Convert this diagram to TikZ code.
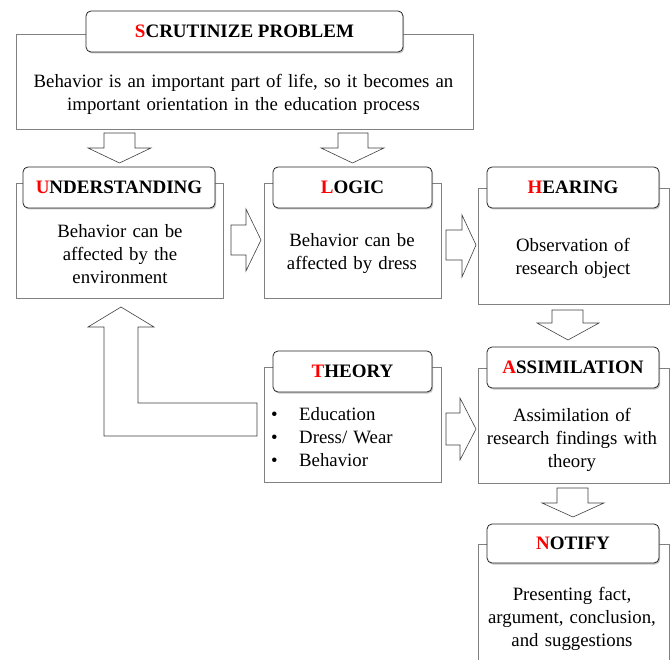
\documentclass[tikz,border=0pt]{standalone}
\usepackage{fontspec}
\setmainfont{Liberation Serif}
\usetikzlibrary{shadows}
\newcommand{\widesp}{\spaceskip=0.33em plus 0.1em\relax}
\begin{document}
\begin{tikzpicture}[x=1pt,y=-1pt,
  outerbox/.style={draw=black!50,line width=0.6pt,fill=white,inner sep=0pt,anchor=north west},
  titlebox/.style={draw=black!85,line width=0.8pt,fill=white,rounded corners=5pt,inner sep=0pt,
    drop shadow={shadow xshift=1.2pt,shadow yshift=-1.5pt,opacity=0.45},
    font=\fontsize{19}{22}\selectfont\bfseries},
  bodytext/.style={align=center,inner sep=0pt,font=\fontsize{18.8}{23}\selectfont\widesp},
  blockarrow/.style={draw=black!75,line width=0.6pt,fill=white,line join=miter}]
\useasboundingbox (0,0) rectangle (672,660);
\newcommand{\R}[1]{\textcolor{red}{#1}}
% outer boxes
\node[outerbox,minimum width=457pt,minimum height=95pt] (topbox) at (16,34) {};
\node[outerbox,minimum width=207pt,minimum height=115pt] (ubox) at (16,183) {};
\node[outerbox,minimum width=177pt,minimum height=115pt] (lbox) at (264,183) {};
\node[outerbox,minimum width=191pt,minimum height=116pt] (hbox) at (478,188) {};
\node[outerbox,minimum width=177pt,minimum height=115pt] (tbox) at (264,367) {};
\node[outerbox,minimum width=191pt,minimum height=115pt] (abox) at (478,368) {};
\node[outerbox,minimum width=191pt,minimum height=130pt] (nbox) at (478,544) {};
% title boxes
\node[titlebox,minimum width=317pt,minimum height=41pt] (stitle) at (244.5,31.5) {\R{S}CRUTINIZE PROBLEM};
\node[titlebox,minimum width=192pt,minimum height=41pt] (utitle) at (119,187.5) {\R{U}NDERSTANDING};
\node[titlebox,minimum width=159pt,minimum height=41pt] (ltitle) at (352.5,187.5) {\R{L}OGIC};
\node[titlebox,minimum width=172pt,minimum height=41pt] (htitle) at (573,187.5) {\R{H}EARING};
\node[titlebox,minimum width=159pt,minimum height=41pt] (ttitle) at (352.5,371.5) {\R{T}HEORY};
\node[titlebox,minimum width=172pt,minimum height=41pt] (atitle) at (573,367.5) {\R{A}SSIMILATION};
\node[titlebox,minimum width=172pt,minimum height=39pt] (ntitle) at (573,543.5) {\R{N}OTIFY};
% texts
\node[bodytext] (stext) at (243.5,94.5) {Behavior is an important part of life, so it becomes an\\important orientation in the education process};
\node[bodytext] (utext) at (120,254) {Behavior can be\\affected by the\\environment};
\node[bodytext] (ltext) at (352,253.5) {Behavior can be\\affected by dress};
\node[bodytext] (htext) at (573,258.5) {Observation of\\research object};
\node[bodytext,align=left,anchor=west] (ttext) at (271,437) {\makebox[28pt][l]{\textbullet}Education\\\makebox[28pt][l]{\textbullet}Dress/ Wear\\\makebox[28pt][l]{\textbullet}Behavior};
\node[bodytext] (atext) at (572,440) {Assimilation of\\research findings with\\theory};
\node[bodytext] (ntext) at (572,619) {Presenting fact,\\argument, conclusion,\\and suggestions};
% block arrows (down)
\draw[blockarrow] (104,133) -- (135,133) -- (135,148) -- (151,148) -- (119.5,163) -- (88,148) -- (104,148) -- cycle;
\draw[blockarrow] (338,133) -- (368,133) -- (368,148) -- (384,148) -- (352.5,163) -- (321,148) -- (338,148) -- cycle;
\draw[blockarrow] (552,310) -- (583,310) -- (583,323) -- (599,323) -- (568,340) -- (537,323) -- (552,323) -- cycle;
\draw[blockarrow] (557,488) -- (588,488) -- (588,503) -- (604,503) -- (573,517) -- (542,503) -- (557,503) -- cycle;
% block arrows (right)
\draw[blockarrow] (231,225) -- (246,225) -- (246,209) -- (261,240) -- (246,271) -- (246,255) -- (231,255) -- cycle;
\draw[blockarrow] (446,230) -- (462,230) -- (462,215) -- (476,245) -- (462,277) -- (462,260) -- (446,260) -- cycle;
\draw[blockarrow] (446,413) -- (460,413) -- (460,398) -- (476,429) -- (460,460) -- (460,445) -- (446,445) -- cycle;
% L-shaped arrow
\draw[blockarrow] (257,403) -- (138,403) -- (138,327) -- (154,327) -- (121,307) -- (88,327) -- (104,327) -- (104,436) -- (257,436) -- cycle;
\end{tikzpicture}
\end{document}
